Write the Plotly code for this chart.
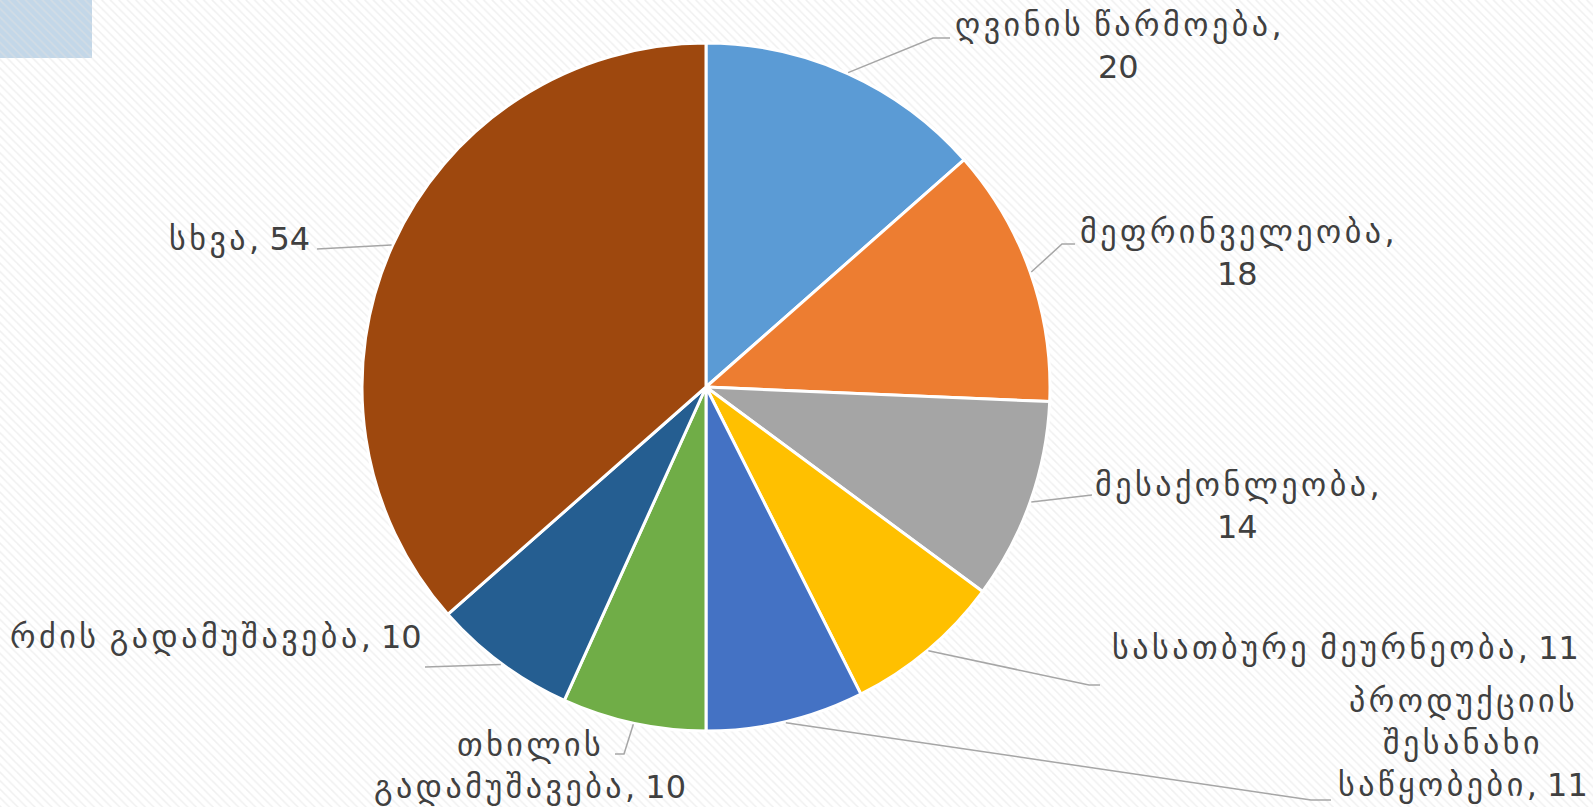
import math
import re
import plotly.graph_objects as go

# ---- data ----
categories = [
    "ღვინის წარმოება",
    "მეფრინველეობა",
    "მესაქონლეობა",
    "სასათბურე მეურნეობა",
    "პროდუქციის შესანახი საწყობები",
    "თხილის გადამუშავება",
    "რძის გადამუშავება",
    "სხვა",
]
values = [20, 18, 14, 11, 11, 10, 10, 54]
colors = ["#5B9BD5", "#ED7D31", "#A5A5A5", "#FFC000", "#4472C4", "#70AD47", "#255E91", "#9E480E"]

# label text lines
label_lines = [
    ["ღვინის წარმოება,", "{v}"],
    ["მეფრინველეობა,", "{v}"],
    ["მესაქონლეობა,", "{v}"],
    ["სასათბურე მეურნეობა, {v}"],
    ["პროდუქციის", "შესანახი", "საწყობები, {v}"],
    ["თხილის", "გადამუშავება, {v}"],
    ["რძის გადამუშავება, {v}"],
    ["სხვა, {v}"],
]

# ---- layout geometry (pixels) ----
W, H = 1593, 807
CX, CY, R = 706, 387, 344
label_pos = [(1118, 25), (1237, 232), (1237, 485), (1345, 648), (1463, 701), (530, 745), (216, 637), (239, 239)]
leader_pts = [
    [(933, 38), (950, 38)],
    [(1062, 244), (1075, 244)],
    [(1092, 495)],
    [(1089, 685), (1100, 685)],
    [(1311, 800), (1331, 800)],
    [(624, 754), (615, 754)],
    [(425, 667)],
    [(317, 249)],
]
LINE_H = 42
FONT = "DejaVu Sans"
FSIZE = 32
GEO_SPACING = 3.5
TXT = "#404040"

def px(x):
    return x / W

def py(y):
    return 1 - y / H

def styled(s):
    # widen Georgian runs a little
    return re.sub(r"([\u10A0-\u10FF]+)",
                  lambda m: f"<span style='letter-spacing:{GEO_SPACING}px'>{m.group(1)}</span>", s)

fig = go.Figure()

# hatched background
fig.add_trace(go.Scatter(
    x=[0, 1, 1, 0, 0], y=[0, 0, 1, 1, 0], mode="lines", fill="toself",
    fillcolor="rgba(0,0,0,0)",
    fillpattern=dict(shape="\\", fgcolor="#e2e2e2", bgcolor="rgba(0,0,0,0)", size=6, solidity=0.25),
    line=dict(width=0), hoverinfo="skip", showlegend=False,
))

fig.add_trace(go.Pie(
    labels=categories, values=values, sort=False, direction="clockwise", rotation=0,
    marker=dict(colors=colors, line=dict(color="white", width=3)),
    textinfo="none", hoverinfo="label+value", showlegend=False,
    domain=dict(x=[(CX - R) / W, (CX + R) / W], y=[(H - CY - R) / H, (H - CY + R) / H]),
))

shapes = [dict(type="rect", xref="paper", yref="paper", x0=0, x1=px(92), y0=py(58), y1=1,
               fillcolor="#C3D7E8", line=dict(width=0), layer="below")]
annotations = []
total = sum(values)
cum = 0
for i, v in enumerate(values):
    mid = (cum + v / 2) / total * 2 * math.pi
    cum += v
    sx = CX + (R + 1) * math.sin(mid)
    sy = CY - (R + 1) * math.cos(mid)
    pts = [(sx, sy)] + leader_pts[i]
    path = "M " + " L ".join(f"{px(x):.5f},{py(y):.5f}" for x, y in pts)
    shapes.append(dict(type="path", xref="paper", yref="paper", path=path,
                       line=dict(color="#A6A6A6", width=1.5)))
    lx, ly = label_pos[i]
    for j, line in enumerate(label_lines[i]):
        annotations.append(dict(
            x=px(lx), y=py(ly + j * LINE_H), xref="paper", yref="paper",
            text=styled(line.format(v=v)), showarrow=False, xanchor="center", yanchor="middle",
            font=dict(family=FONT, size=FSIZE, color=TXT),
        ))

fig.update_layout(
    width=W, height=H, margin=dict(l=0, r=0, t=0, b=0),
    paper_bgcolor="white", plot_bgcolor="rgba(0,0,0,0)",
    xaxis=dict(range=[0, 1], visible=False, fixedrange=True),
    yaxis=dict(range=[0, 1], visible=False, fixedrange=True),
    shapes=shapes, annotations=annotations,
)

fig.write_html("out.html", config={"displayModeBar": False},
               post_script="document.body.style.margin='0px';")
